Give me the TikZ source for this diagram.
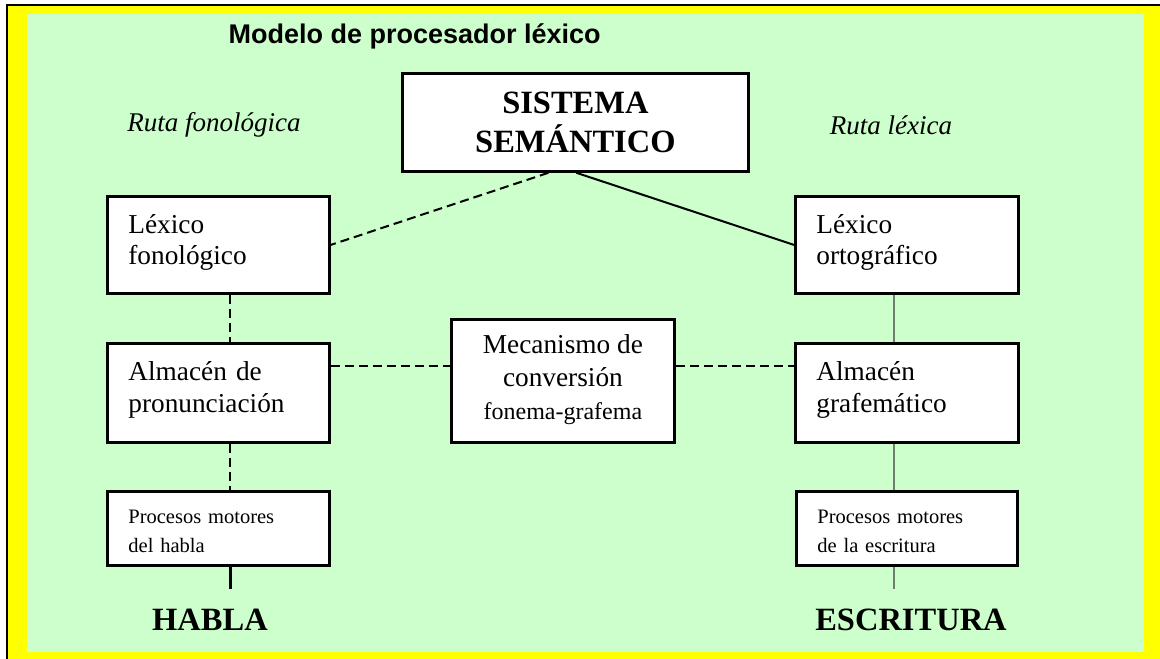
\documentclass[tikz,border=0pt]{standalone}
\usepackage{fontspec}
\setmainfont{Liberation Serif}
\newfontfamily\titlefont{Liberation Sans}
\definecolor{bgyellow}{HTML}{FFFF00}
\definecolor{bggreen}{HTML}{CCFFCC}
\definecolor{linegray}{HTML}{6E7F6E}
\begin{document}
\begin{tikzpicture}[x=1pt,y=-1pt,
  box/.style={draw=black, line width=2.8pt, fill=white, inner ysep=0pt, anchor=north west},
  hd/.style 2 args={execute at begin node={\rule{0pt}{#1}}, execute at end node={\rule[-#2]{0pt}{#2}}},
  lbox/.style={box, inner xsep=21pt, text width=180pt, hd={20pt}{12pt}, align=left, font=\fontsize{27.3}{31}\selectfont},
  abox/.style={lbox, font=\fontsize{27.3}{32}\selectfont, minimum height=99pt},
  pbox/.style={box, inner xsep=21pt, text width=180pt, hd={19pt}{0.1pt}, minimum height=74pt, align=left, font=\fontsize{20.5}{29}\selectfont},
  conn/.style={line width=2pt},
  dconn/.style={line width=2pt, dash pattern=on 9pt off 5pt},
  gconn/.style={line width=2pt, draw=linegray},
  ruta/.style={font=\itshape\fontsize{27}{30}\selectfont},
  outlabel/.style={font=\bfseries\fontsize{32.5}{36}\selectfont}
]
\useasboundingbox (0,0) rectangle (1160,659);
\fill[white] (0,0) rectangle (1160,659);
\fill[bgyellow] (7,5) rectangle (1160,659);
\draw[line width=1.5pt] (7,659) -- (7,5) -- (1160,5);
\fill[bggreen] (27,14) rectangle (1144,652);

\node[anchor=base west, font=\titlefont\bfseries\fontsize{27}{30}\selectfont] (title) at (225,43) {Modelo de procesador léxico};

\node[ruta] (rf) at (214,125) {Ruta fonológica};
\node[ruta] (rl) at (891,125) {Ruta léxica};

\node[box, minimum width=346pt, minimum height=98pt, inner xsep=0pt, hd={24pt}{1pt}, align=center, font=\bfseries\fontsize{32.5}{39}\selectfont] (sis) at (401,72) {SISTEMA\\SEMÁNTICO};

\node[lbox, minimum height=97pt] (lf) at (106,195) {Léxico\\fonológico};
\node[lbox, minimum height=97pt, text width=181pt] (lo) at (794,195) {Léxico\\ortográfico};
\node[abox] (ap) at (106,342) {Almacén de\\pronunciación};
\node[abox, text width=181pt] (ag) at (794,342) {Almacén\\grafemático};
\node[box, minimum width=223pt, minimum height=123pt, inner xsep=0pt, hd={20pt}{8pt}, align=center, font=\fontsize{27.3}{33}\selectfont] (mc) at (450,318) {Mecanismo de\\conversión\\{\fontsize{24}{33}\selectfont fonema-grafema}};
\node[pbox] (ph) at (106,490) {Procesos motores\\del habla};
\node[pbox, text width=179pt] (pe) at (795,490) {Procesos motores\\de la escritura};

\node[outlabel] (habla) at (210,620) {HABLA};
\node[outlabel] (escr) at (911,620) {ESCRITURA};

\coordinate (hend) at (229,589);
\coordinate (eend) at (893,589);
\coordinate (phs) at ([xshift=12pt]ph.south);
\coordinate (pes) at ([xshift=-12.5pt]pe.south);

\draw[dconn] ([xshift=-27pt]sis.south) -- (lf.east);
\draw[conn] ([xshift=1pt]sis.south) -- (lo.west);
\draw[dconn] ([xshift=12pt]lf.south) -- ([xshift=12pt]ap.north);
\draw[gconn] ([xshift=-12.5pt]lo.south) -- ([xshift=-12.5pt]ag.north);
\draw[dconn] ([yshift=-24pt]ap.north east) -- ([yshift=-48pt]mc.north west);
\draw[dconn] ([yshift=-48pt]mc.north east) -- ([yshift=-24pt]ag.north west);
\draw[dconn] ([xshift=12pt]ap.south) -- ([xshift=12pt]ph.north);
\draw[gconn] ([xshift=-12.5pt]ag.south) -- ([xshift=-12.5pt]pe.north);
\draw[line width=2.5pt] (phs) -- (phs |- hend);
\draw[gconn] (pes) -- (pes |- eend);
\end{tikzpicture}
\end{document}
